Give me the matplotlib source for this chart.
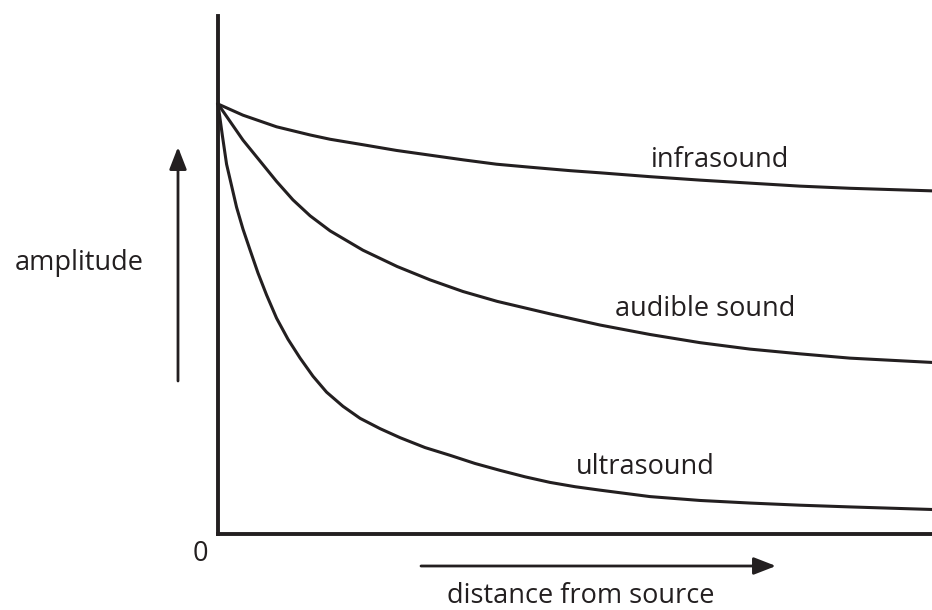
import matplotlib
matplotlib.use("Agg")
import matplotlib.pyplot as plt

# distance from source (0..100) and amplitude (100 = level at the source)
infra_dist = [0, 3.5, 8.2, 12.9, 15.7, 20.4, 25.0, 29.7, 34.4, 39.0, 43.7,
              49.3, 53.5, 60.5, 67.5, 74.5, 81.5, 88.5, 100]
infra_amp = [100, 97.4, 94.7, 92.8, 91.8, 90.5, 89.2, 88.1, 87.0, 86.0, 85.3,
             84.5, 84.0, 83.1, 82.3, 81.6, 80.9, 80.4, 79.8]

audible_dist = [0, 3.5, 5.9, 8.2, 10.5, 12.9, 15.7, 20.3, 25.1, 29.7, 34.3,
                39.1, 46.5, 53.5, 60.5, 67.5, 74.5, 81.5, 88.5, 100]
audible_amp = [100, 91.6, 86.7, 82.0, 77.7, 74.0, 70.5, 66.0, 62.2, 59.1, 56.4,
               54.1, 51.2, 48.6, 46.4, 44.5, 43.0, 41.9, 40.9, 39.9]

ultra_dist = [0, 0.6, 1.2, 2.6, 3.5, 4.5, 5.6, 6.8, 8.2, 9.8, 11.5, 13.3,
              15.2, 17.5, 19.9, 22.7, 25.5, 29.0, 32.5, 36.0, 39.5, 43.0,
              46.5, 50.0, 53.5, 60.5, 67.5, 74.5, 81.5, 88.5, 100]
ultra_amp = [100, 92.8, 86.0, 76.0, 70.9, 66.0, 60.7, 55.6, 50.2, 45.3, 40.9, 36.7,
             33.0, 29.7, 26.9, 24.5, 22.4, 20.1, 18.3, 16.4, 14.8, 13.3,
             12.0, 11.0, 10.2, 8.7, 7.8, 7.2, 6.7, 6.3, 5.7]

labels = ["infrasound", "audible sound", "ultrasound"]
label_pos = [(70.3, 85.3), (68.2, 50.7), (59.8, 14.0)]

INK = "#231f20"
W, H = 932, 610
FS = 19.5

plt.rcParams['font.family'] = ['Open Sans', 'DejaVu Sans']

fig = plt.figure(figsize=(W / 100, H / 100), dpi=100)
ax = fig.add_axes([218 / W, 1 - 534 / H, 1 - 218 / W, (534 - 16) / H])
ax.set_xlim(0, 100)
ax.set_ylim(0, (534 - 16) / 4.3)

for d, a in [(infra_dist, infra_amp), (audible_dist, audible_amp), (ultra_dist, ultra_amp)]:
    ax.plot(d, a, color=INK, lw=2.2, solid_joinstyle='round', clip_on=False)

for txt, (x, y) in zip(labels, label_pos):
    ax.text(x, y, txt, ha='center', va='baseline', fontsize=FS, color=INK)

for side in ['top', 'right']:
    ax.spines[side].set_visible(False)
for side in ['left', 'bottom']:
    ax.spines[side].set_linewidth(2.8)
    ax.spines[side].set_color(INK)
ax.set_xticks([])
ax.set_yticks([])

# axis labels and arrows outside the axes (figure pixels, y from top)
def fp(x, y):
    return (x / W, 1 - y / H)

fig.text(*fp(79, 270), "amplitude", ha='center', va='baseline', fontsize=FS, color=INK)
fig.text(*fp(581, 603), "distance from source", ha='center', va='baseline', fontsize=FS, color=INK)
fig.text(*fp(200, 561), "0", ha='center', va='baseline', fontsize=FS, color=INK)

arrow = dict(arrowstyle='-|>,head_length=0.9,head_width=0.35', color=INK,
             lw=2.0, mutation_scale=15, shrinkA=0, shrinkB=0)
ax.annotate("", xy=fp(178, 147), xytext=fp(178, 381), xycoords='figure fraction',
            textcoords='figure fraction', arrowprops=arrow)
ax.annotate("", xy=fp(776, 566), xytext=fp(421, 566), xycoords='figure fraction',
            textcoords='figure fraction', arrowprops=arrow)

fig.savefig("out.png", dpi=100)
